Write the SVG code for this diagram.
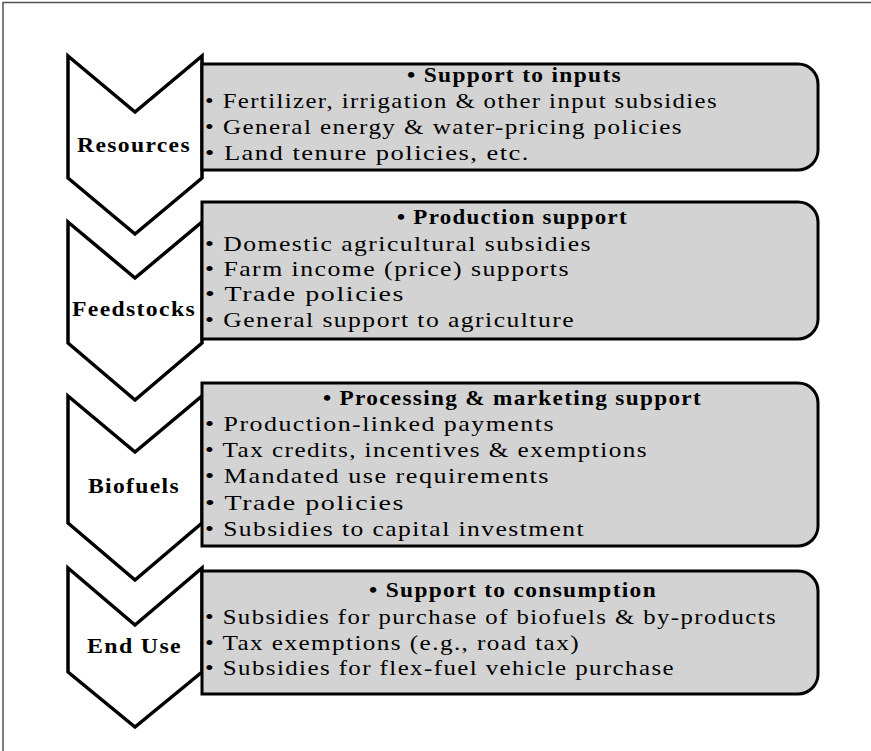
<svg xmlns="http://www.w3.org/2000/svg" width="871" height="751" viewBox="0 0 871 751" font-family="'Liberation Serif', 'Times New Roman', serif" font-size="21">
<style>
.frame{fill:none;stroke:#505050;stroke-width:1.5}
.chev{fill:#ffffff;stroke:#000;stroke-width:3.5;stroke-linejoin:miter}
.box{fill:#d3d3d3;stroke:#000;stroke-width:3}
text{letter-spacing:1.2px}
.h{font-weight:bold}
.lbl{font-weight:bold}
</style>
<rect width="871" height="751" fill="#ffffff"/>
<path class="frame" d="M3,751 V2.5 H871"/>
<g id="connectors"></g>
<g id="resources">
<path class="chev" d="M68,56 L135,112 L202,56 V178 L135,234 L68,178 Z"/>
<text class="lbl" x="77" y="152" textLength="114" lengthAdjust="spacingAndGlyphs">Resources</text>
</g>
<g id="feedstocks">
<path class="chev" d="M68,222 L135,278 L202,222 V343 L135,400 L68,343 Z"/>
<text class="lbl" x="72" y="316" textLength="124" lengthAdjust="spacingAndGlyphs">Feedstocks</text>
</g>
<g id="biofuels">
<path class="chev" d="M68,396 L135,452 L202,396 V523 L135,580 L68,523 Z"/>
<text class="lbl" x="88" y="493" textLength="92" lengthAdjust="spacingAndGlyphs">Biofuels</text>
</g>
<g id="enduse">
<path class="chev" d="M68,568 L135,625 L202,568 V672 L135,727 L68,672 Z"/>
<text class="lbl" x="87" y="653" textLength="95" lengthAdjust="spacingAndGlyphs">End Use</text>
</g>
<g id="box-inputs">
<path class="box" d="M202,64 H798 A20,20 0 0 1 818,84 V150 A20,20 0 0 1 798,170 H202 Z"/>
<text class="h" x="407" y="82" textLength="215" lengthAdjust="spacingAndGlyphs">• Support to inputs</text>
<text x="205" y="108" textLength="513" lengthAdjust="spacingAndGlyphs">• Fertilizer, irrigation &amp; other input subsidies</text>
<text x="205" y="134" textLength="478" lengthAdjust="spacingAndGlyphs">• General energy &amp; water-pricing policies</text>
<text x="205" y="160" textLength="325" lengthAdjust="spacingAndGlyphs">• Land tenure policies, etc.</text>
</g>
<g id="box-production">
<path class="box" d="M202,202 H798 A20,20 0 0 1 818,222 V319 A20,20 0 0 1 798,339 H202 Z"/>
<text class="h" x="397" y="224" textLength="231" lengthAdjust="spacingAndGlyphs">• Production support</text>
<text x="205" y="251" textLength="387" lengthAdjust="spacingAndGlyphs">• Domestic agricultural subsidies</text>
<text x="205" y="276" textLength="365" lengthAdjust="spacingAndGlyphs">• Farm income (price) supports</text>
<text x="205" y="301" textLength="200" lengthAdjust="spacingAndGlyphs">• Trade policies</text>
<text x="205" y="327" textLength="370" lengthAdjust="spacingAndGlyphs">• General support to agriculture</text>
</g>
<g id="box-processing">
<path class="box" d="M202,383 H798 A20,20 0 0 1 818,403 V526 A20,20 0 0 1 798,546 H202 Z"/>
<text class="h" x="323" y="405" textLength="379" lengthAdjust="spacingAndGlyphs">• Processing &amp; marketing support</text>
<text x="205" y="431" textLength="350" lengthAdjust="spacingAndGlyphs">• Production-linked payments</text>
<text x="205" y="457" textLength="443" lengthAdjust="spacingAndGlyphs">• Tax credits, incentives &amp; exemptions</text>
<text x="205" y="483" textLength="345" lengthAdjust="spacingAndGlyphs">• Mandated use requirements</text>
<text x="205" y="510" textLength="200" lengthAdjust="spacingAndGlyphs">• Trade policies</text>
<text x="205" y="536" textLength="380" lengthAdjust="spacingAndGlyphs">• Subsidies to capital investment</text>
</g>
<g id="box-consumption">
<path class="box" d="M202,571 H798 A20,20 0 0 1 818,591 V674 A20,20 0 0 1 798,694 H202 Z"/>
<text class="h" x="369" y="597" textLength="288" lengthAdjust="spacingAndGlyphs">• Support to consumption</text>
<text x="205" y="624" textLength="572" lengthAdjust="spacingAndGlyphs">• Subsidies for purchase of biofuels &amp; by-products</text>
<text x="205" y="650" textLength="375" lengthAdjust="spacingAndGlyphs">• Tax exemptions (e.g., road tax)</text>
<text x="205" y="675" textLength="470" lengthAdjust="spacingAndGlyphs">• Subsidies for flex-fuel vehicle purchase</text>
</g>
</svg>
